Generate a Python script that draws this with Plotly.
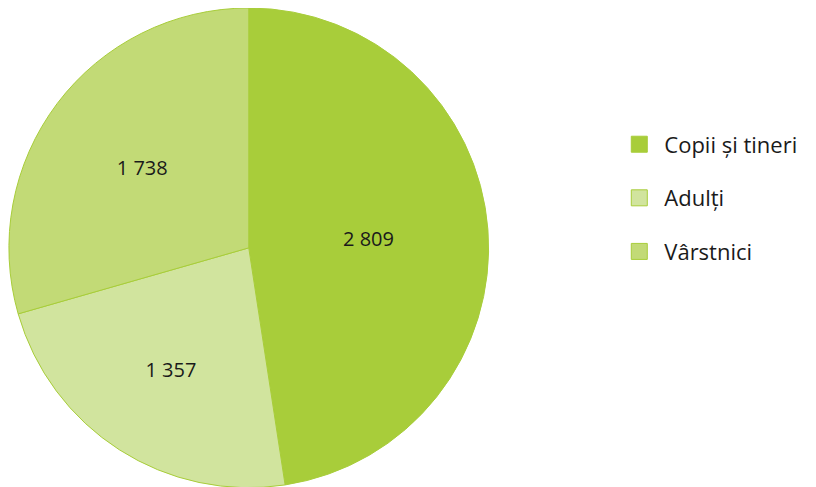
import plotly.graph_objects as go

categories = ["Copii și tineri", "Adulți", "Vârstnici"]
values = [2809, 1357, 1738]
colors = ["#a8cd3a", "#d1e49e", "#c2da76"]

text_labels = [f"{v:,}".replace(",", " ") for v in values]

fig = go.Figure()
fig.add_trace(
    go.Pie(
        labels=categories,
        values=values,
        text=text_labels,
        texttemplate="%{text}",
        textposition="inside",
        insidetextorientation="horizontal",
        sort=False,
        direction="clockwise",
        rotation=0,
        marker=dict(colors=colors, line=dict(color="#a8cd3a", width=1)),
        textfont=dict(family="Open Sans", size=20, color="#1a1a1a"),
        domain=dict(x=[0.0, 0.5901], y=[0.015, 1.0]),
        hoverinfo="label+value",
        showlegend=False,
    )
)

# legend entries (square swatches) matching the slices
for cat, col in zip(categories, colors):
    fig.add_trace(
        go.Scatter(
            x=[None],
            y=[None],
            mode="markers",
            name=cat,
            legendgroup=cat,
            marker=dict(symbol="square", size=30, color=col,
                        line=dict(color="#a8cd3a", width=1)),
            showlegend=True,
        )
    )

fig.update_layout(
    width=816,
    height=487,
    margin=dict(l=0, r=0, t=0, b=0),
    paper_bgcolor="white",
    plot_bgcolor="white",
    xaxis=dict(visible=False),
    yaxis=dict(visible=False),
    legend=dict(
        x=0.743,
        y=0.763,
        xanchor="left",
        yanchor="top",
        font=dict(family="Open Sans", size=22, color="#1a1a1a"),
        itemsizing="trace",
        itemwidth=40,
        tracegroupgap=22,
        traceorder="grouped",
    ),
)

fig.write_html("out.html")
